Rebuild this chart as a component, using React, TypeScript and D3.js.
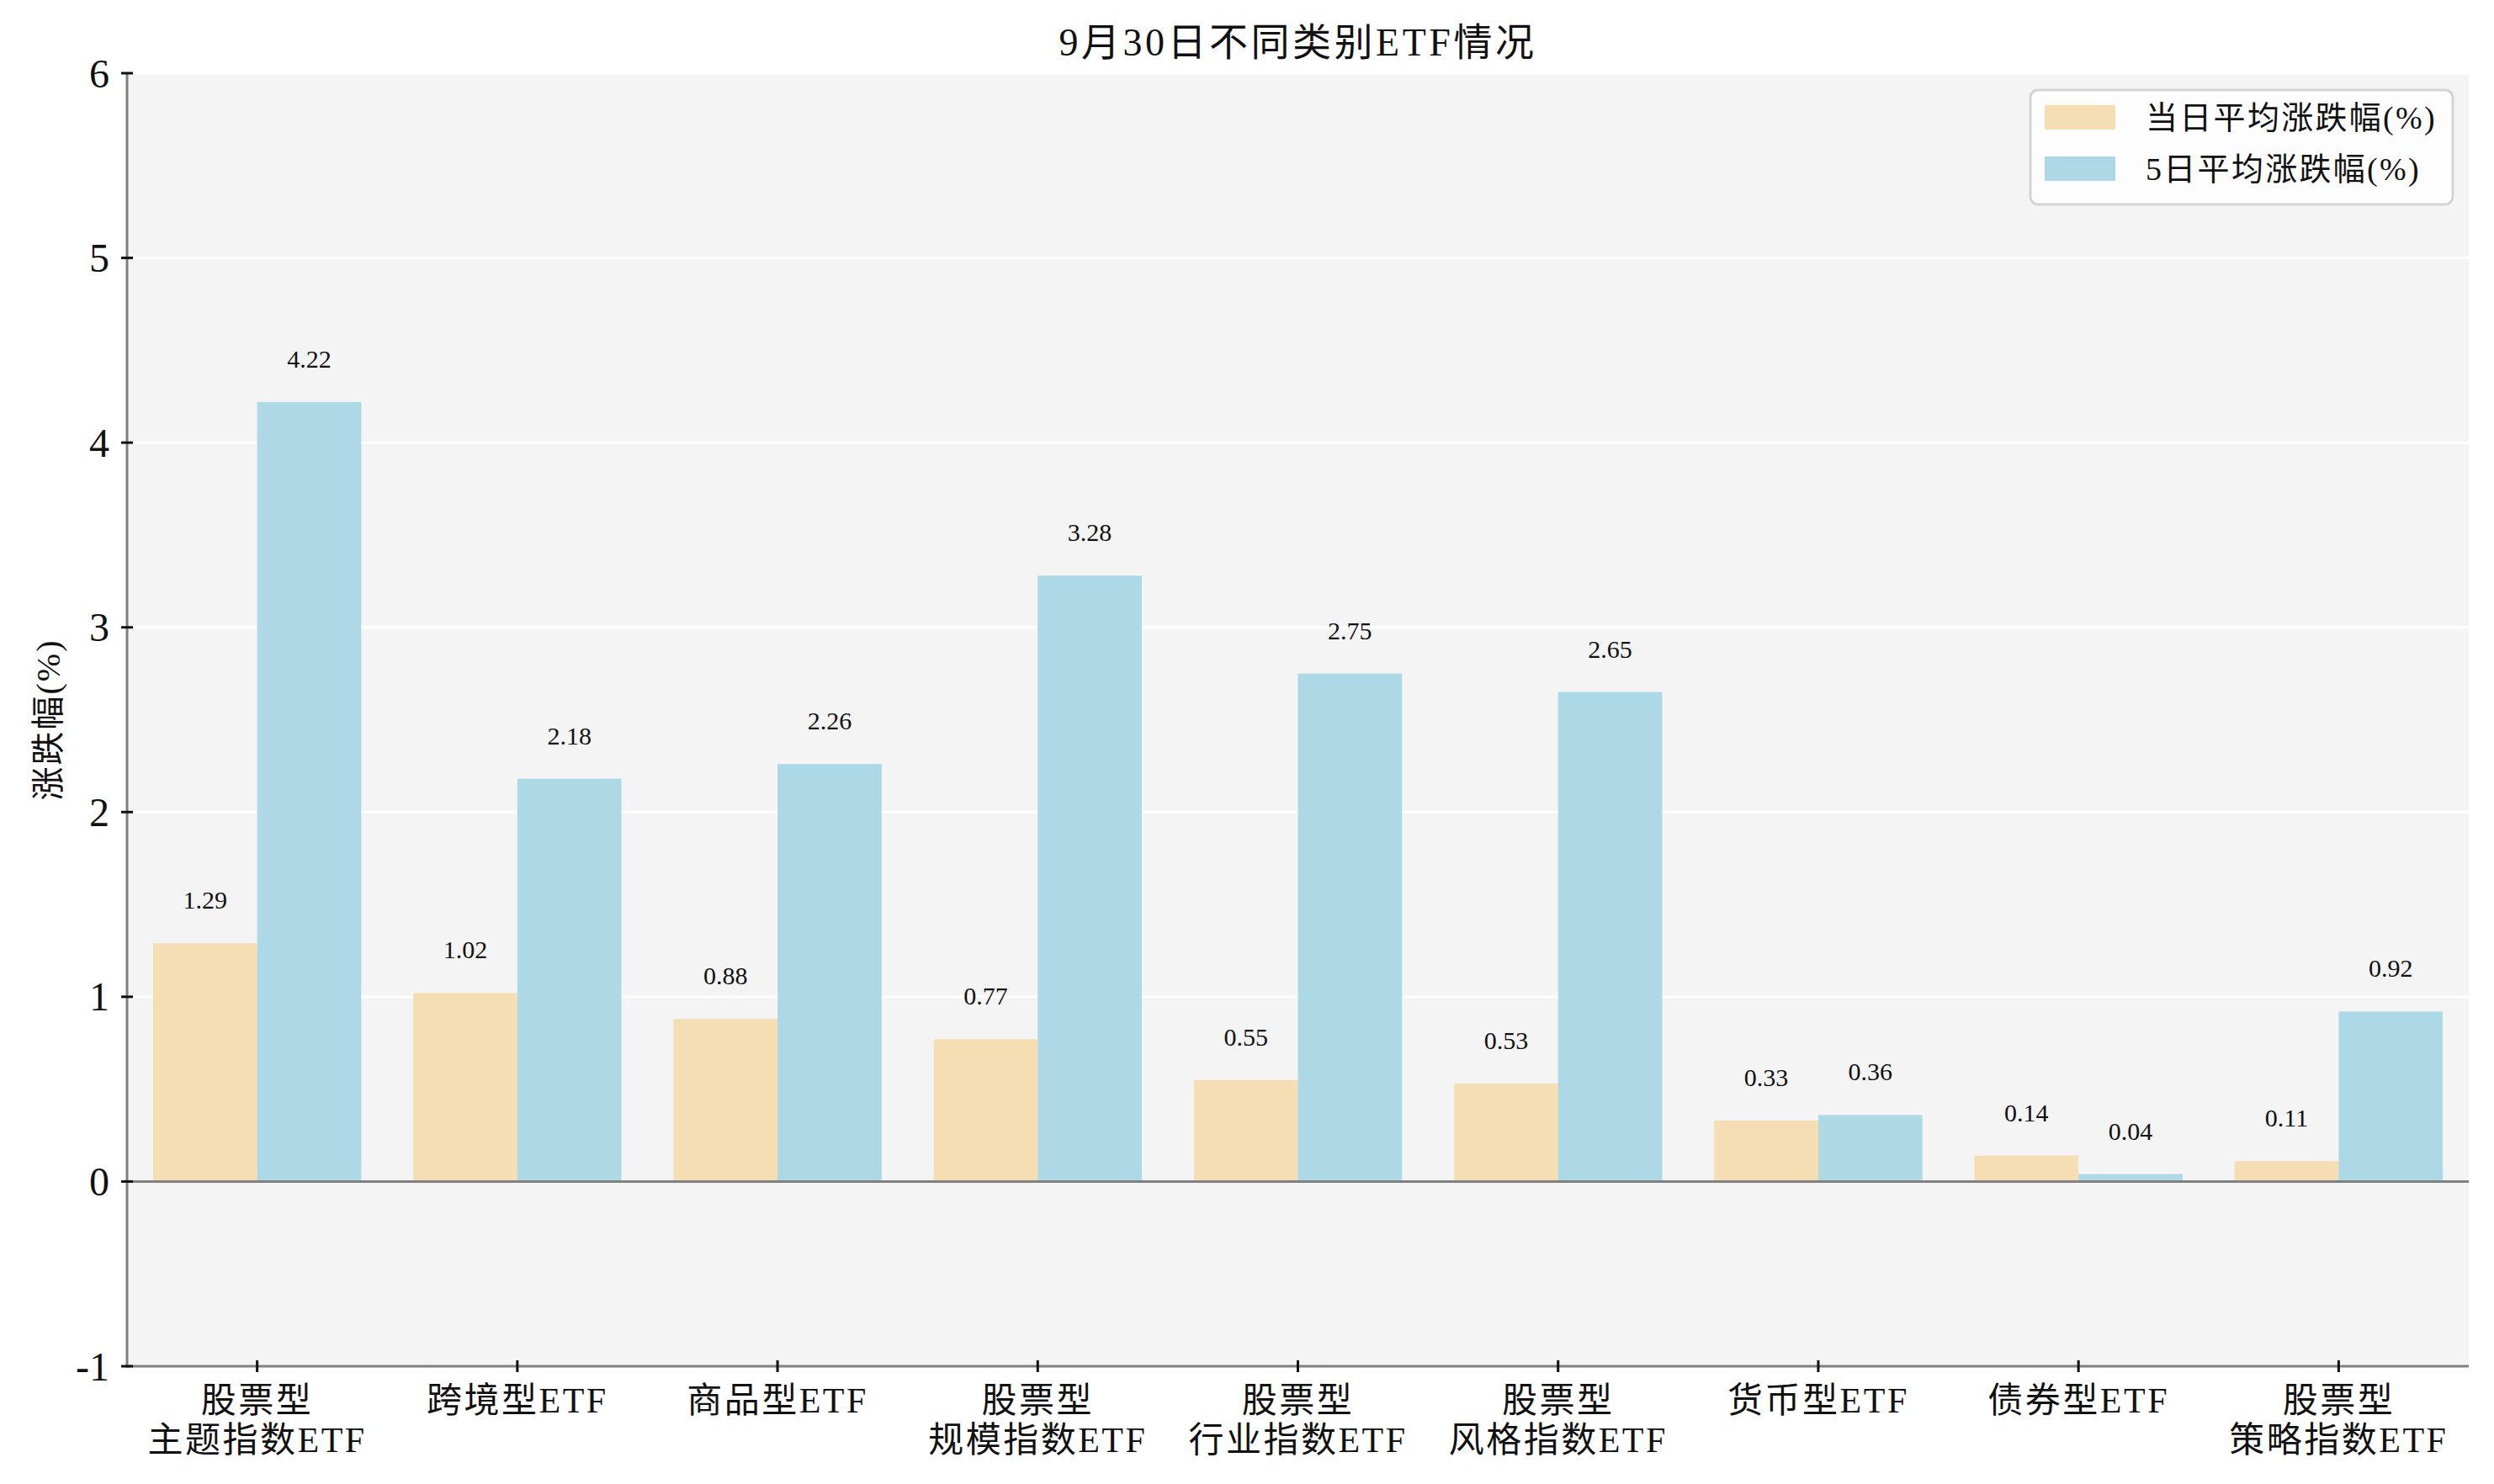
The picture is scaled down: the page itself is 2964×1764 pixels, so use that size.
import React from "react";
import * as d3 from "d3";

const categories: string[] = [
  "股票型\n主题指数ETF",
  "跨境型ETF",
  "商品型ETF",
  "股票型\n规模指数ETF",
  "股票型\n行业指数ETF",
  "股票型\n风格指数ETF",
  "货币型ETF",
  "债券型ETF",
  "股票型\n策略指数ETF",
];
const dayChange: number[] = [1.29, 1.02, 0.88, 0.77, 0.55, 0.53, 0.33, 0.14, 0.11];
const fiveDayChange: number[] = [4.22, 2.18, 2.26, 3.28, 2.75, 2.65, 0.36, 0.04, 0.92];
const seriesNames: string[] = ["当日平均涨跌幅(%)", "5日平均涨跌幅(%)"];
const yTicks: number[] = [-1, 0, 1, 2, 3, 4, 5, 6];
const title = "9月30日不同类别ETF情况";
const yLabel = "涨跌幅(%)";

const W = 2964;
const H = 1764;
const left = 151;
const right = 2934;
const top = 87;
const bottom = 1624;
const FONT = '"Liberation Serif", "Noto Sans CJK SC", serif';
const COLORS = ["#F5DEB3", "#ADD8E6"];

export default function App() {
  const x = d3.scaleBand<string>().domain(categories).range([left, right]).paddingInner(0.2).paddingOuter(0.1);
  const xs = d3.scaleBand<number>().domain([0, 1]).range([0, x.bandwidth()]);
  const y = d3.scaleLinear().domain([-1, 6]).range([bottom, top]);
  const series = [dayChange, fiveDayChange];

  return (
    <svg width={W} height={H} style={{ position: "absolute", left: 0, top: 0, background: "#fff" }} fontFamily={FONT}>
      <rect x={left} y={top} width={right - left} height={bottom - top} fill="#f4f4f4" />
      {yTicks.map((t) => (
        <line key={"g" + t} x1={left} x2={right} y1={y(t)} y2={y(t)} stroke="#ffffff" strokeWidth={3} />
      ))}
      {series.map((vals, si) =>
        vals.map((v, i) => {
          const bx = (x(categories[i]) as number) + (xs(si) as number);
          return (
            <rect
              key={`b${si}-${i}`}
              x={bx}
              y={y(Math.max(0, v))}
              width={xs.bandwidth()}
              height={Math.abs(y(v) - y(0))}
              fill={COLORS[si]}
            />
          );
        })
      )}
      {series.map((vals, si) =>
        vals.map((v, i) => {
          const cx = (x(categories[i]) as number) + (xs(si) as number) + xs.bandwidth() / 2;
          return (
            <text key={`l${si}-${i}`} x={cx} y={y(v) - 41} textAnchor="middle" fontSize={30} fill="#111">
              {v.toFixed(2)}
            </text>
          );
        })
      )}
      {/* zero line */}
      <line x1={left} x2={right} y1={y(0)} y2={y(0)} stroke="#808080" strokeWidth={3} />
      {/* spines */}
      <line x1={left} x2={left} y1={top} y2={bottom + 1.5} stroke="#808080" strokeWidth={3} />
      <line x1={left - 1.5} x2={right} y1={bottom} y2={bottom} stroke="#808080" strokeWidth={3} />
      {/* y ticks */}
      {yTicks.map((t) => (
        <g key={"yt" + t}>
          <line x1={left - 7} x2={left + 7} y1={y(t)} y2={y(t)} stroke="#111" strokeWidth={3} />
          <text x={130} y={y(t)} textAnchor="end" dominantBaseline="central" fontSize={48} fill="#111">
            {t}
          </text>
        </g>
      ))}
      {/* x ticks */}
      {categories.map((c) => {
        const cx = (x(c) as number) + x.bandwidth() / 2;
        const lines = c.split("\n");
        return (
          <g key={"xt" + c}>
            <line x1={cx} x2={cx} y1={bottom - 7} y2={bottom + 7} stroke="#111" strokeWidth={3} />
            {lines.map((ln, li) => (
              <text
                key={li}
                x={cx}
                y={1665 + li * 47}
                textAnchor="middle"
                dominantBaseline="central"
                fontSize={42}
                letterSpacing={2.5}
                fill="#111"
              >
                {ln}
              </text>
            ))}
          </g>
        );
      })}
      {/* title */}
      <text
        x={(left + right) / 2}
        y={50}
        textAnchor="middle"
        dominantBaseline="central"
        fontSize={46}
        letterSpacing={3.5}
        fill="#111"
      >
        {title}
      </text>
      {/* y label */}
      <text
        transform={`translate(57, ${(top + bottom) / 2}) rotate(-90)`}
        textAnchor="middle"
        dominantBaseline="central"
        fontSize={40}
        letterSpacing={2}
        fill="#111"
      >
        {yLabel}
      </text>
      {/* legend */}
      <rect x={2413} y={107} width={502} height={136} rx={9} fill="rgba(255,255,255,0.8)" stroke="#d3d3d3" strokeWidth={3} />
      {seriesNames.map((n, i) => (
        <g key={"lg" + i}>
          <rect x={2430} y={125 + i * 61} width={84} height={29} fill={COLORS[i]} />
          <text x={2550} y={140 + i * 61} dominantBaseline="central" fontSize={38} letterSpacing={2.3} fill="#111">
            {n}
          </text>
        </g>
      ))}
    </svg>
  );
}
